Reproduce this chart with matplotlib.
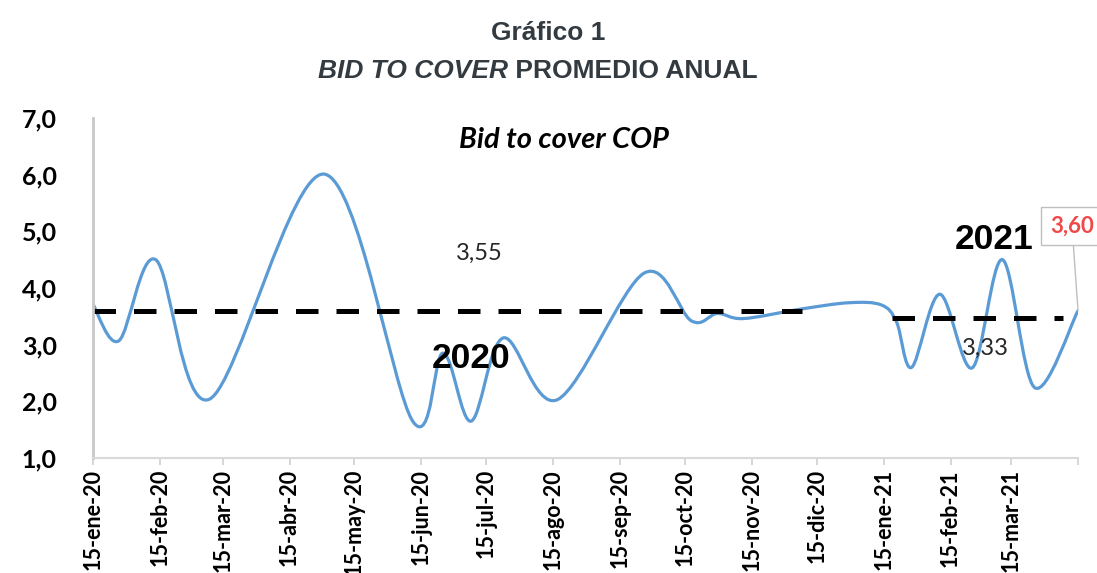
import numpy as np
import pandas as pd
import matplotlib
matplotlib.use("Agg")
import matplotlib.pyplot as plt
import matplotlib.dates as mdates
from matplotlib.path import Path
from matplotlib.patches import PathPatch

# Datos (bid to cover COP)
fechas = ["2020-01-15", "2020-01-27", "2020-02-13", "2020-03-09", "2020-05-01",
          "2020-06-11", "2020-06-25", "2020-07-08", "2020-07-23", "2020-08-17",
          "2020-09-26", "2020-10-18", "2020-10-30", "2020-11-11", "2020-12-08",
          "2020-12-30", "2021-01-14", "2021-01-21", "2021-01-28", "2021-02-10",
          "2021-02-25", "2021-03-11", "2021-03-26", "2021-04-15"]
valores = [3.71, 3.07, 4.50, 2.04, 6.01,
           1.65, 2.85, 1.65, 3.12, 2.03,
           4.26, 3.42, 3.55, 3.46, 3.63,
           3.74, 3.70, 3.40, 2.60, 3.89,
           2.59, 4.50, 2.24, 3.60]

# Promedios anuales (líneas discontinuas)
prom_2020_fechas = ["2020-01-15", "2020-12-08"]
prom_2020_valor = 3.60
prom_2021_fechas = ["2021-01-19", "2021-04-08"]
prom_2021_valor = 3.47

# Etiquetas de los ejes
ticks_x = ["2020-01-15", "2020-02-15", "2020-03-15", "2020-04-15", "2020-05-15",
           "2020-06-15", "2020-07-15", "2020-08-15", "2020-09-15", "2020-10-15",
           "2020-11-15", "2020-12-15", "2021-01-15", "2021-02-15", "2021-03-15",
           "2021-04-15"]
etiquetas_x = ["15-ene-20", "15-feb-20", "15-mar-20", "15-abr-20", "15-may-20",
               "15-jun-20", "15-jul-20", "15-ago-20", "15-sep-20", "15-oct-20",
               "15-nov-20", "15-dic-20", "15-ene-21", "15-feb-21", "15-mar-21", ""]
ticks_y = [1, 2, 3, 4, 5, 6, 7]
etiquetas_y = ["1,0", "2,0", "3,0", "4,0", "5,0", "6,0", "7,0"]


def curva_suave(x, y):
    # línea suavizada tipo Excel (Bezier cúbico)
    pts = np.column_stack([x, y])
    verts = [pts[0]]
    codes = [Path.MOVETO]
    n = len(pts)
    for i in range(n - 1):
        p0 = pts[i - 1] if i > 0 else pts[i]
        p1 = pts[i]
        p2 = pts[i + 1]
        p3 = pts[i + 2] if i + 2 < n else pts[i + 1]
        c1 = p1 + (p2 - p0) / 6.0
        c2 = p2 - (p3 - p1) / 6.0
        verts += [c1, c2, p2]
        codes += [Path.CURVE4] * 3
    return Path(verts, codes)


fig = plt.figure(figsize=(10.97, 5.73), dpi=100)
ax = fig.add_axes([0.0848, 0.2007, 0.8979, 0.5934])

x = mdates.date2num(pd.to_datetime(fechas))
ax.add_patch(PathPatch(curva_suave(x, np.array(valores)), fill=False,
                       edgecolor="#5B9BD5", linewidth=2.3, capstyle="round"))

ax.plot(pd.to_datetime(prom_2020_fechas), [prom_2020_valor] * 2, color="black",
        linewidth=3.6, dashes=(4.5, 3.6))
ax.plot(pd.to_datetime(prom_2021_fechas), [prom_2021_valor] * 2, color="black",
        linewidth=3.6, dashes=(4.5, 3.6))

ax.set_xlim(pd.Timestamp("2020-01-15"), pd.Timestamp("2021-04-15"))
ax.set_ylim(1, 7)

ax.set_xticks(pd.to_datetime(ticks_x))
ax.set_xticklabels(etiquetas_x, rotation=90, fontfamily="Lato",
                   fontweight="bold", fontsize=15.5)
ax.set_yticks(ticks_y)
ax.set_yticklabels(etiquetas_y, fontfamily="Lato", fontweight="bold", fontsize=18)
ax.tick_params(axis="y", length=0, pad=26)
ax.tick_params(axis="x", length=5, color="#D0D0D0", width=1.2, pad=3)

for s in ["top", "right"]:
    ax.spines[s].set_visible(False)
ax.spines["left"].set_color("#C8C8C8")
ax.spines["left"].set_linewidth(2)
ax.spines["bottom"].set_color("#D9D9D9")
ax.spines["bottom"].set_linewidth(1.5)

# Títulos
titulo_color = "#333A40"
fig.text(0.5, 1 - 33 / 573, "Gráfico 1", ha="center", va="center",
         fontfamily="Liberation Sans", fontweight="bold", fontsize=19, color=titulo_color)
t1 = fig.text(318 / 1097, 1 - 71 / 573, "BID TO COVER", ha="left", va="center",
              fontfamily="Liberation Sans", fontweight="bold", fontstyle="italic",
              fontsize=19, color=titulo_color)
fig.add_artist(plt.Annotation(" PROMEDIO ANUAL", xy=(1, 0.5), xycoords=t1,
                              ha="left", va="center", fontfamily="Liberation Sans",
                              fontweight="bold", fontsize=19, color=titulo_color))

# Textos dentro del gráfico
ax.text(pd.Timestamp("2020-08-20"), 6.61, "Bid to cover COP", ha="center", va="center",
        fontfamily="Lato", fontweight="bold", fontstyle="italic", fontsize=21)
ax.text(pd.Timestamp("2020-07-12"), 4.62, "3,55", ha="center", va="center",
        fontfamily="Lato", fontsize=17, color="#262626")
ax.text(pd.Timestamp("2020-07-08"), 2.76, "2020", ha="center", va="center",
        fontfamily="Liberation Sans", fontweight="bold", fontsize=25.5)
ax.text(pd.Timestamp("2021-03-07"), 4.85, "2021", ha="center", va="center",
        fontfamily="Liberation Sans", fontweight="bold", fontsize=25.5)
ax.text(pd.Timestamp("2021-03-03"), 2.94, "3,33", ha="center", va="center",
        fontfamily="Lato", fontsize=17, color="#262626")

ax.annotate("3,60", xy=(pd.Timestamp(fechas[-1]), valores[-1]),
            xytext=(1072 / 1097, 1 - 226 / 573), textcoords="figure fraction",
            ha="center", va="center", fontfamily="Lato", fontweight="bold",
            fontsize=16, color="#F04848", annotation_clip=False,
            bbox=dict(boxstyle="square,pad=0.4", fc="white", ec="#BFBFBF", lw=1),
            arrowprops=dict(arrowstyle="-", color="#BFBFBF", lw=1,
                            shrinkA=0, shrinkB=0))

fig.savefig("out.png", dpi=100)
